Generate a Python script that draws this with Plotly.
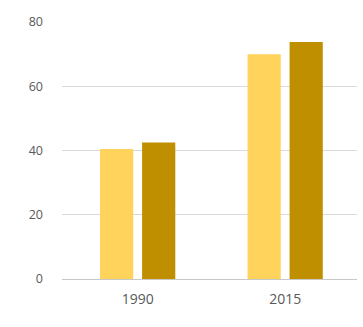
import plotly.graph_objects as go

years = ["1990", "2015"]
series_a = [40.5, 70.0]
series_b = [42.5, 73.8]

fig = go.Figure()
fig.add_trace(go.Bar(x=years, y=series_a, marker_color="#FFD35C", marker_line_width=0, name="A"))
fig.add_trace(go.Bar(x=years, y=series_b, marker_color="#BF8F00", marker_line_width=0, name="B"))

fig.update_layout(
    width=363, height=327,
    margin=dict(l=62, r=6, t=22, b=48),
    paper_bgcolor="white", plot_bgcolor="white",
    barmode="group", bargap=0.43, bargroupgap=0.21,
    showlegend=False,
    font=dict(family="Open Sans", color="#595959"),
)
fig.update_xaxes(
    range=[-0.513, 1.487],
    showgrid=False, showline=False, ticks="",
    tickfont=dict(size=14, color="#595959"),
    ticklabelstandoff=10,
)
fig.update_yaxes(
    range=[0, 80], tickvals=[0, 20, 40, 60, 80],
    showgrid=True, gridcolor="#DADADA", gridwidth=1,
    zeroline=True, zerolinecolor="#C8C8C8", zerolinewidth=1,
    showline=False, ticks="",
    tickfont=dict(size=12.5, color="#595959"),
    ticklabelstandoff=18,
)

fig.write_html("out.html")
